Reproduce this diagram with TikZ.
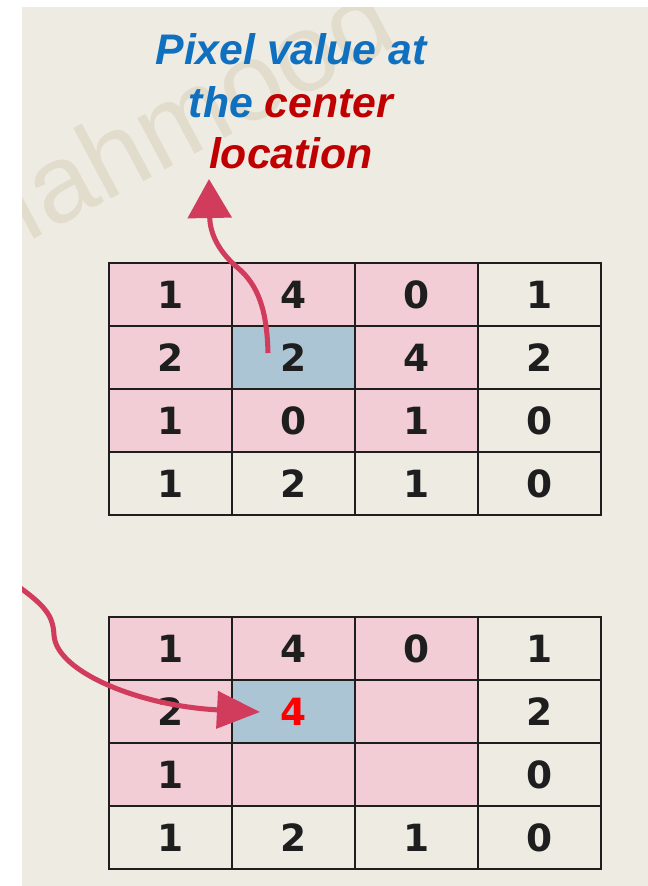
\documentclass[tikz,border=0pt]{standalone}
\usepackage{fontspec}
\setmainfont{Liberation Sans}
\newfontfamily\digitfont{DejaVu Sans}
\usetikzlibrary{arrows.meta,calc}

\definecolor{paper}{RGB}{238,235,227}
\definecolor{hotcell}{RGB}{242,205,213}
\definecolor{midcell}{RGB}{172,197,213}
\definecolor{gridline}{RGB}{30,30,30}
\definecolor{arrowred}{RGB}{210,60,92}
\definecolor{capblue}{RGB}{16,112,192}
\definecolor{capred}{RGB}{192,0,0}
\definecolor{wmgray}{RGB}{225,220,203}

\newcommand{\hlval}[1]{\textcolor{red}{#1}}

\tikzset{
  cell/.style={draw=gridline, line width=1.6pt, minimum width=3.69cm,
    minimum height=1.89cm, inner sep=0pt, text=gridline,
    font=\digitfont\bfseries\fontsize{32}{32}\selectfont},
  cell0/.style={cell},
  cell1/.style={cell, fill=hotcell},
  cell2/.style={cell, fill=midcell},
  caption/.style={font=\bfseries\itshape\fontsize{36.5}{44}\selectfont, anchor=base},
  flow/.style={draw=arrowred, line width=4.3pt},
}

\begin{document}
\begin{tikzpicture}[x=0.03cm, y=-0.03cm]
  \useasboundingbox (0,0) rectangle (648,886);
  \fill[white] (0,0) rectangle (648,886);
  \fill[paper] (22,7) rectangle (648,886);

  \begin{scope}
    \clip (22,7) rectangle (648,886);
    % faint watermark
    \node[font=\fontsize{94}{94}\selectfont, text=wmgray, rotate=28,
      anchor=base west, inner sep=0pt] (wm) at (-31,274) {Mahmood};

    % caption
    \node[caption, text=capblue] (ttl1) at (291,64) {Pixel value at};
    \node[caption] (ttl2) at (291,117) {\textcolor{capblue}{the} \textcolor{capred}{center}};
    \node[caption, text=capred] (ttl3) at (291,168) {location};

    % input grid
    \foreach \row [count=\r] in {{1,4,0,1},{2,2,4,2},{1,0,1,0},{1,2,1,0}}
      \foreach \v [count=\c] in \row {
        \pgfmathtruncatemacro\shade{(\r<4 && \c<4) ? ((\r==2 && \c==2) ? 2 : 1) : 0}
        \node[cell\shade] (t-\r-\c) at ({109+123*(\c-0.5)}, {263+63*(\r-0.5)}) {\v};
      }

    % output grid
    \foreach \row [count=\r] in {{1,4,0,1},{2,\hlval{4},{},2},{1,{},{},0},{1,2,1,0}}
      \foreach \v [count=\c] in \row {
        \pgfmathtruncatemacro\shade{(\r<4 && \c<4) ? ((\r==2 && \c==2) ? 2 : 1) : 0}
        \node[cell\shade] (b-\r-\c) at ({109+123*(\c-0.5)}, {617+63*(\r-0.5)}) {\v};
      }

    \coordinate (up-end) at (209,179);
    \coordinate (in-start) at (12,582);
    \coordinate (in-end) at (260,712);

    \draw[flow, -{Triangle[length=1.17cm,width=1.3cm]}]
      ($(t-2-2)+(-25.5,-4.5)$) .. controls (267,310) and (258,285) .. (238,268)
      .. controls (220,253) and (210,235) .. (up-end);
    \draw[flow, -{Triangle[length=1.29cm,width=1.1cm]}]
      (in-start) .. controls (45,605) and (53,615) .. (54,635)
      .. controls (56,672) and (140,706) .. (in-end);
  \end{scope}
\end{tikzpicture}
\end{document}
